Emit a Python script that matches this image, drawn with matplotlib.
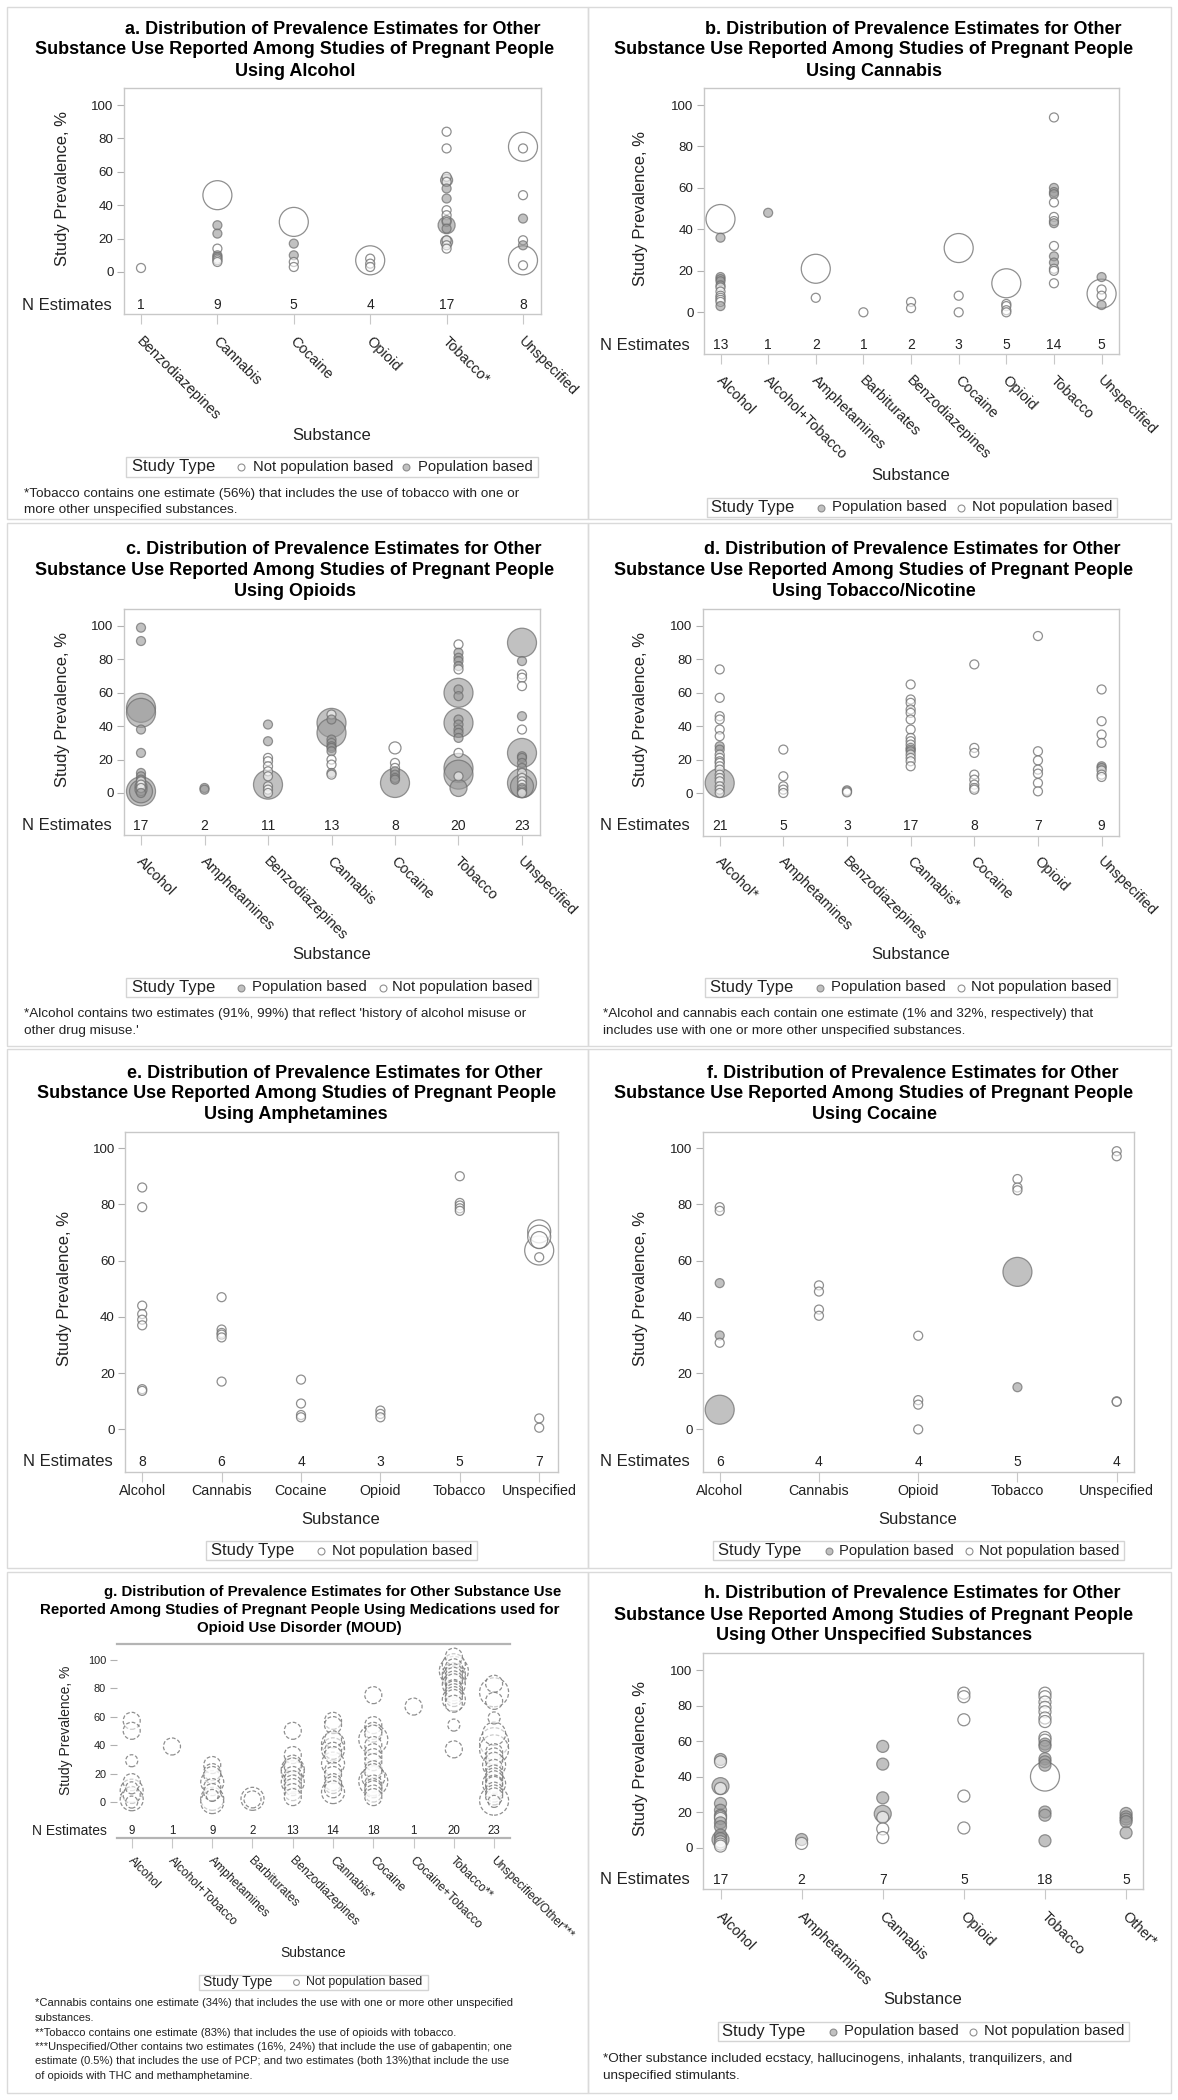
import matplotlib
matplotlib.use("Agg")
import matplotlib.pyplot as plt
from matplotlib.patches import Rectangle
from matplotlib.lines import Line2D

plt.rcParams['font.family'] = ['Liberation Sans', 'DejaVu Sans']

# ---------------------------------------------------------------- data
# values = study prevalence (%), size = relative study size class (1 small .. 5 large),
# pop = 1 population based, 0 not population based
A_CATS = ["Benzodiazepines", "Cannabis", "Cocaine", "Opioid", "Tobacco*", "Unspecified"]
A_N = [1, 9, 5, 4, 17, 8]
A_VALS = [[2.4],
          [46, 28, 23, 14, 10, 9, 8, 7, 6],
          [30, 17, 10, 6, 3],
          [7, 8, 5, 3],
          [84, 74, 57, 55, 54, 50, 44, 37, 34, 31, 30, 28, 26, 19, 18, 16, 14],
          [75, 74, 46, 32, 19, 16, 7, 4]]
A_SIZE = [[1], [5, 1, 1, 1, 1, 1, 1, 1, 1], [5, 1, 1, 1, 1], [5, 1, 1, 1],
          [1, 1, 1, 2, 1, 1, 1, 1, 1, 1, 1, 3, 1, 1, 2, 1, 1], [5, 1, 1, 1, 1, 1, 5, 1]]
A_POP = [[0], [0, 1, 1, 0, 1, 1, 0, 0, 0], [0, 1, 1, 0, 0], [0, 0, 0, 0],
         [0, 0, 0, 1, 0, 1, 1, 0, 0, 0, 1, 1, 1, 0, 1, 0, 0], [0, 0, 0, 1, 0, 1, 0, 0]]

B_CATS = ["Alcohol", "Alcohol+Tobacco", "Amphetamines", "Barbiturates", "Benzodiazepines",
          "Cocaine", "Opioid", "Tobacco", "Unspecified"]
B_N = [13, 1, 2, 1, 2, 3, 5, 14, 5]
B_VALS = [[45, 36, 17, 16, 15, 13, 12, 10, 8, 7, 6, 5, 3],
          [48], [21, 7], [0], [5, 2], [31, 8, 0], [14, 4, 3, 1, 0],
          [94, 60, 58, 57, 53, 46, 44, 43, 32, 27, 24, 21, 20, 14],
          [17, 11, 9, 8, 3.5]]
B_SIZE = [[5, 1, 1, 1, 1, 1, 1, 1, 1, 1, 1, 1, 1], [1], [5, 1], [1], [1, 1], [5, 1, 1],
          [5, 1, 1, 1, 1], [1] * 14, [1, 1, 5, 1, 1]]
B_POP = [[0, 1, 1, 1, 1, 1, 0, 0, 0, 0, 0, 0, 1], [1], [0, 0], [0], [0, 0], [0, 0, 0],
         [0, 0, 0, 0, 0], [0, 1, 1, 1, 0, 0, 0, 1, 0, 1, 1, 0, 0, 0], [1, 0, 0, 0, 1]]

C_CATS = ["Alcohol", "Amphetamines", "Benzodiazepines", "Cannabis", "Cocaine", "Tobacco", "Unspecified"]
C_N = [17, 2, 11, 13, 8, 20, 23]
C_VALS = [[99, 91, 51, 48, 38, 24, 12, 10, 8, 7, 5, 4, 3, 2, 1, 1, 0],
          [3, 2],
          [41, 31, 21, 19, 16, 13, 10, 5, 4, 2, 0],
          [47, 44, 42, 36, 32, 30, 28, 27, 25, 20, 17, 12, 11],
          [27, 18, 15, 13, 11, 9, 8, 6],
          [89, 84, 81, 79, 76, 74, 62, 60, 58, 44, 42, 41, 38, 36, 33, 24, 15, 11, 10, 3],
          [90, 79, 71, 69, 64, 46, 38, 24, 22, 21, 18, 15, 12, 9, 7, 6, 5, 4, 3, 2, 1, 0, 0]]
C_SIZE = [[1, 1, 5, 5, 1, 1, 1, 1, 1, 1, 1, 2, 1, 2, 5, 4, 1],
          [1, 1],
          [1, 1, 1, 1, 1, 1, 1, 5, 1, 1, 1],
          [1, 1, 5, 5, 1, 1, 1, 1, 1, 1, 1, 1, 1],
          [2, 1, 1, 1, 1, 1, 1, 5],
          [1, 1, 1, 1, 1, 1, 1, 5, 1, 1, 5, 1, 1, 1, 1, 1, 5, 5, 1, 3],
          [5, 1, 1, 1, 1, 1, 1, 5, 1, 1, 1, 1, 1, 1, 1, 5, 1, 4, 1, 1, 1, 1, 1]]
C_POP = [[1, 1, 1, 1, 1, 1, 1, 1, 1, 0, 0, 1, 0, 1, 1, 1, 1],
         [1, 1],
         [1, 1, 0, 0, 0, 0, 0, 1, 0, 0, 0],
         [0, 1, 1, 1, 1, 1, 1, 1, 1, 0, 0, 1, 0],
         [0, 0, 0, 1, 1, 1, 1, 1],
         [0, 1, 1, 1, 1, 0, 1, 1, 1, 1, 1, 1, 1, 1, 1, 0, 1, 1, 0, 1],
         [1, 1, 0, 0, 0, 1, 0, 1, 1, 1, 1, 1, 0, 0, 0, 1, 0, 1, 1, 0, 1, 1, 0]]

D_CATS = ["Alcohol*", "Amphetamines", "Benzodiazepines", "Cannabis*", "Cocaine", "Opioid", "Unspecified"]
D_N = [21, 5, 3, 17, 8, 7, 9]
D_VALS = [[74, 57, 46, 44, 38, 34, 28, 26, 23, 21, 19, 18, 16, 14, 11, 9, 7, 6, 4, 2, 0],
          [26, 10, 4, 2, 0],
          [1.6, 1, 0.4],
          [65, 56, 54, 50, 48, 44, 38, 33, 31, 29, 27, 26, 25, 23, 21, 19, 16],
          [77, 27, 24, 11, 8, 5, 3, 2],
          [94, 25, 19.5, 14, 11.6, 6, 1],
          [62, 43, 35, 30, 16, 15, 13.5, 11, 9.6]]
D_SIZE = [[1] * 17 + [5, 1, 1, 1], [1] * 5, [1] * 3, [1] * 17, [1] * 8, [1] * 7, [1] * 9]
D_POP = [[0, 0, 0, 0, 0, 0, 1, 1, 0, 0, 0, 0, 0, 0, 0, 0, 0, 1, 0, 0, 0],
         [0] * 5, [0] * 3,
         [0] * 11 + [1, 1] + [0] * 4,
         [0] * 8, [0] * 7,
         [0, 0, 0, 0, 1, 1, 0, 0, 0]]

E_CATS = ["Alcohol", "Cannabis", "Cocaine", "Opioid", "Tobacco", "Unspecified"]
E_N = [8, 6, 4, 3, 5, 7]
E_VALS = [[86, 79, 44, 41, 39, 37, 14.3, 13.7],
          [47, 35.5, 34.3, 33.7, 32.7, 17],
          [17.7, 9.2, 5.1, 4.3],
          [6.7, 5.5, 4.3],
          [90, 80.5, 79.6, 78.6, 77.7],
          [70.4, 68.5, 67.3, 63.6, 61.2, 3.9, 0.6]]
E_SIZE = [[1] * 8, [1] * 6, [1] * 4, [1] * 3, [1] * 5, [4, 4, 3, 5, 1, 1, 1]]
E_POP = [[0] * 8, [0] * 6, [0] * 4, [0] * 3, [0] * 5, [0] * 7]

F_CATS = ["Alcohol", "Cannabis", "Opioid", "Tobacco", "Unspecified"]
F_N = [6, 4, 4, 5, 4]
F_VALS = [[79, 77.7, 52, 33.4, 30.8, 7],
          [51.2, 49, 42.6, 40.4],
          [33.3, 10.4, 8.8, 0],
          [89, 86, 85, 56, 15],
          [98.9, 97.1, 10, 9.8]]
F_SIZE = [[1, 1, 1, 1, 1, 5], [1] * 4, [1] * 4, [1, 1, 1, 5, 1], [1] * 4]
F_POP = [[0, 0, 1, 1, 0, 1], [0] * 4, [0] * 4, [0, 0, 0, 1, 1], [0] * 4]

G_CATS = ["Alcohol", "Alcohol+Tobacco", "Amphetamines", "Barbiturates", "Benzodiazepines",
          "Cannabis*", "Cocaine", "Cocaine+Tobacco", "Tobacco**", "Unspecified/Other***"]
G_N = [9, 1, 9, 2, 13, 14, 18, 1, 20, 23]
G_VALS = [[57, 50, 29, 14, 10, 8, 5, 2, 0],
          [39],
          [26, 21, 19, 14, 10.5, 7, 4.7, 2.3, 0],
          [2.3, 1.9],
          [50, 33, 27, 25, 23, 21, 19, 16, 14, 13, 10.5, 7, 3.5],
          [57, 54, 44, 41, 37, 36, 33, 27, 22, 19, 14, 12, 9, 7],
          [75, 54, 50, 48, 44, 40, 35, 31.5, 28, 23, 21, 17.5, 14.5, 13, 10.5, 9, 6, 3.5],
          [67],
          [102, 96, 94.5, 92, 91, 89.7, 88.5, 87, 86, 84, 82.5, 80, 79, 77, 75, 73, 72, 69, 54, 37],
          [83, 77, 71, 59, 48, 42, 37, 35, 32, 29, 26, 24, 20, 18, 16, 13, 13, 12, 8, 6, 4, 1, 0.5]]
G_SIZE = [[3, 3, 2, 3, 2, 4, 3, 4, 2],
          [3],
          [3, 3, 3, 4, 3, 3, 2, 4, 4],
          [4, 3],
          [3, 3, 3, 3, 4, 4, 3, 3, 4, 3, 3, 3, 3],
          [3, 3, 3, 4, 4, 3, 3, 4, 3, 3, 3, 3, 3, 4],
          [3, 3, 3, 3, 5, 3, 3, 3, 3, 3, 3, 4, 5, 3, 3, 3, 3, 3],
          [3],
          [3, 4, 3, 5, 3, 4, 3, 4, 3, 3, 4, 3, 3, 3, 3, 3, 4, 3, 2, 3],
          [3, 5, 3, 2, 4, 5, 5, 3, 3, 3, 4, 3, 3, 3, 3, 4, 3, 3, 3, 3, 3, 5, 2]]
G_POP = [[0] * len(v) for v in G_VALS]

H_CATS = ["Alcohol", "Amphetamines", "Cannabis", "Opioid", "Tobacco", "Other*"]
H_N = [17, 2, 7, 5, 18, 5]
H_VALS = [[49.6, 48.3, 34.6, 33.3, 24.8, 21, 18.2, 17.3, 16.4, 13.9, 11.7, 7, 5, 4.5, 3.2, 1.9, 0.8],
          [4.5, 2.3],
          [57, 47, 28, 19, 17, 10.5, 5.6],
          [87, 85, 72, 29, 11],
          [87, 85, 82, 79, 76.5, 73, 71, 62, 60.5, 58.3, 57, 50, 48.3, 46.4, 40, 20, 18.2, 3.8],
          [19.2, 17.3, 16, 14.6, 8.3]]
H_SIZE = [[2, 2, 3, 2, 2, 2, 2, 2, 2, 2, 2, 2, 2, 3, 2, 2, 2],
          [2, 2],
          [2, 2, 2, 3, 2, 2, 2],
          [2] * 5,
          [2] * 14 + [5, 2, 2, 2],
          [2] * 5]
H_POP = [[1, 0, 1, 0, 1, 1, 1, 0, 0, 1, 1, 1, 1, 1, 0, 0, 0],
         [1, 0],
         [1, 1, 1, 1, 0, 0, 0],
         [0] * 5,
         [0] * 9 + [1, 1, 1, 1, 1, 0, 1, 1, 1],
         [1] * 5]

TITLE_HEAD = "Distribution of Prevalence Estimates for Other"
TITLE_MID = "Substance Use Reported Among Studies of Pregnant People"

FOOT_A = ["*Tobacco contains one estimate (56%) that includes the use of tobacco with one or",
          "more other unspecified substances."]
FOOT_C = ["*Alcohol contains two estimates (91%, 99%) that reflect 'history of alcohol misuse or",
          "other drug misuse.'"]
FOOT_D = ["*Alcohol and cannabis each contain one estimate (1% and 32%, respectively) that",
          "includes use with one or more other unspecified substances."]
FOOT_G = ["*Cannabis contains one estimate (34%) that includes the use with one or more other unspecified",
          "substances.",
          "**Tobacco contains one estimate (83%) that includes the use of opioids with tobacco.",
          "***Unspecified/Other contains two estimates (16%, 24%) that include the use of gabapentin; one",
          "estimate (0.5%) that includes the use of PCP; and two estimates (both 13%)that include the use",
          "of opioids with THC and methamphetamine."]
FOOT_H = ["*Other substance included ecstacy, hallucinogens, inhalants, tranquilizers, and",
          "unspecified stimulants."]

# ---------------------------------------------------------------- layout (pixels)
W, H = 1178, 2100
DPI = 100
fig = plt.figure(figsize=(W / DPI, H / DPI), dpi=DPI)
fig.patch.set_facecolor('white')

SIZE_PX = {1: 9, 2: 12, 3: 17, 4: 23, 5: 29}
TXT = '#222222'

FILLED_FC = (0.60, 0.60, 0.60, 0.60)
FILLED_EC = (0.42, 0.42, 0.42, 0.70)
OPEN_FC = (1, 1, 1, 0.55)
OPEN_EC = (0.45, 0.45, 0.45, 0.80)

LAYOUT = {
    'a': dict(frame=(124, 541, 88, 314), y0=272, y100=105, cats_px=(141, 523), nrow=305,
              nlab_x=112, ylab_x=62, rot_y=333, xlab=(332, 435),
              titles=[(333, 29.3), (295, 50), (295, 71)],
              legend=dict(box=(126, 457, 538, 477), title_x=131.7,
                          items=[(240.8, 253.2, 0), (406.4, 418.4, 1)]),
              foot=(24.5, [494, 510])),
    'b': dict(frame=(704, 1118.5, 88, 354), y0=312.3, y100=105, cats_px=(720.5, 1101.6), nrow=345,
              nlab_x=690, ylab_x=640.7, rot_y=372, xlab=(911, 475),
              titles=[(913, 29.3), (874, 50), (874, 71)],
              legend=dict(box=(706.5, 498, 1116.7, 517), title_x=711,
                          items=[(821.3, 831.8, 1), (961.3, 971.8, 0)]),
              foot=None),
    'c': dict(frame=(124, 540, 609, 835), y0=793, y100=626, cats_px=(141, 522), nrow=826,
              nlab_x=112, ylab_x=62, rot_y=853, xlab=(332, 955),
              titles=[(333.5, 550), (295, 570.7), (295, 591.7)],
              legend=dict(box=(126, 978, 538, 997), title_x=131.7,
                          items=[(240.8, 252, 1), (382.7, 392.5, 0)]),
              foot=(24.5, [1014, 1031])),
    'd': dict(frame=(703, 1119, 609, 836), y0=793, y100=626, cats_px=(719.7, 1101.6), nrow=826,
              nlab_x=690, ylab_x=640.7, rot_y=853, xlab=(911, 955),
              titles=[(912, 550), (874, 570.7), (874, 591.7)],
              legend=dict(box=(704.6, 978, 1116.7, 997), title_x=710.3,
                          items=[(820.2, 830.7, 1), (960.5, 971, 0)]),
              foot=(603, [1014, 1031])),
    'e': dict(frame=(125.3, 557.6, 1131.6, 1471.8), y0=1429.4, y100=1148.1, cats_px=(142.2, 539.2),
              nrow=1461.5, nlab_x=113, ylab_x=64, rot_y=None, hlab_y=1491, xlab=(341, 1519),
              titles=[(335, 1073), (297, 1093.7), (296, 1114.4)],
              legend=dict(box=(206, 1541, 477, 1560), title_x=210.7,
                          items=[(320.6, 331.9, 0)]),
              foot=None),
    'f': dict(frame=(702.8, 1134.4, 1131.6, 1471.8), y0=1429.4, y100=1148.1, cats_px=(719.7, 1116.7),
              nrow=1461.5, nlab_x=690, ylab_x=640.7, rot_y=None, hlab_y=1491, xlab=(918, 1519),
              titles=[(912.5, 1073), (874, 1093.7), (874, 1114.4)],
              legend=dict(box=(713, 1541, 1124, 1560), title_x=717.8,
                          items=[(828.8, 839.4, 1), (968.8, 979.3, 0)]),
              foot=None),
    'g': dict(frame=(116.6, 509.9, 1643.5, 1838), y0=1802.1, y100=1659.5, cats_px=(131.7, 494.1),
              nrow=1831, nlab_x=106.5, ylab_x=65.8, rot_y=1853, xlab=(313, 1953),
              titles=[(332.8, 1592.3), (300, 1610), (299.7, 1628)],
              legend=dict(box=(198.7, 1974.5, 428, 1990), title_x=203.2,
                          items=[(296.1, 305.5, 0)]),
              foot=(34.6, [2003.4, 2018, 2032.5, 2047, 2061.4, 2075.8]),
              scale=0.83, dashed=True, open_frame=True),
    'h': dict(frame=(702.8, 1143, 1653, 1889), y0=1847.5, y100=1670.1, cats_px=(720.5, 1126.1),
              nrow=1879.6, nlab_x=690, ylab_x=640.7, rot_y=1908, xlab=(923, 2000),
              titles=[(912, 1594), (874, 1615), (874, 1635.6)],
              legend=dict(box=(717.8, 2022, 1128.7, 2041), title_x=722.3,
                          items=[(832.6, 843.9, 1), (972.6, 983.9, 0)]),
              foot=(603, [2058.7, 2075.8])),
}

PANEL_BOXES = [(7, 7, 588, 519), (588, 7, 1171, 519),
               (7, 523, 588, 1046), (588, 523, 1171, 1046),
               (7, 1049, 588, 1568), (588, 1049, 1171, 1568),
               (7, 1572, 588, 2093), (588, 1572, 1171, 2093)]


def T(x, y, s, **kw):
    kw.setdefault('color', TXT)
    fig.text(x / W, 1 - y / H, s, **kw)


for (x0, y0, x1, y1) in PANEL_BOXES:
    fig.add_artist(Rectangle((x0 / W, 1 - y1 / H), (x1 - x0) / W, (y1 - y0) / H,
                             transform=fig.transFigure, fill=False, ec='#dadada', lw=1.0))


def draw_panel(key, title_lines, cats, n_est, vals, sizes, pops, foot):
    lay = LAYOUT[key]
    k = lay.get('scale', 1.0)
    L, R, Tp, B = lay['frame']
    ax = fig.add_axes([L / W, 1 - B / H, (R - L) / W, (B - Tp) / H])
    ax.set_facecolor('none')
    y0, y100 = lay['y0'], lay['y100']
    ppu = (y0 - y100) / 100.0
    ax.set_ylim(-(B - y0) / ppu, (y0 - Tp) / ppu)
    c0, c1 = lay['cats_px']
    n = len(cats)
    sp = (c1 - c0) / (n - 1)
    ax.set_xlim(-(c0 - L) / sp, (n - 1) + (R - c1) / sp)

    pts = []
    for i, (v, s, p) in enumerate(zip(vals, sizes, pops)):
        for vv, sv, pv in zip(v, s, p):
            pts.append((i, vv, sv, pv))
    pts.sort(key=lambda t: -t[2])
    xs = [t[0] for t in pts]
    ys = [t[1] for t in pts]
    ss = [(SIZE_PX[t[2]] * 72.0 / DPI) ** 2 for t in pts]
    fcs = [FILLED_FC if t[3] else OPEN_FC for t in pts]
    ecs = [FILLED_EC if t[3] else OPEN_EC for t in pts]
    kw = {}
    if lay.get('dashed'):
        kw['linestyles'] = (0, (3.0, 1.6))
    ax.scatter(xs, ys, s=ss, facecolors=fcs, edgecolors=ecs, linewidths=0.9, zorder=3, **kw)

    ny = (y0 - lay['nrow']) / ppu
    for i, nv in enumerate(n_est):
        ax.text(i, ny, str(nv), ha='center', va='center', fontsize=10 * k, color=TXT)

    ax.set_yticks([0, 20, 40, 60, 80, 100])
    ax.set_yticklabels(['0', '20', '40', '60', '80', '100'])
    ax.tick_params(axis='y', length=5, color='#b0b0b0', labelsize=9.6 * k, labelcolor=TXT, pad=2.5)
    ax.set_xticks(range(n))
    ax.set_xticklabels([])
    ax.tick_params(axis='x', length=7, color='#c8c8c8')
    for sname, sp_ in ax.spines.items():
        sp_.set_color('#c8c8c8')
        sp_.set_linewidth(1.0)
    if lay.get('open_frame'):
        ax.spines['left'].set_visible(False)
        ax.spines['right'].set_visible(False)
        ax.spines['top'].set_color('#b4b4b4')
        ax.spines['top'].set_linewidth(1.6)
        ax.spines['bottom'].set_color('#b4b4b4')
        ax.spines['bottom'].set_linewidth(1.6)

    for i, lab in enumerate(cats):
        x = c0 + i * sp
        if lay['rot_y'] is not None:
            T(x - 2, lay['rot_y'] + 6, lab, rotation=-45, rotation_mode='anchor',
              ha='left', va='center', fontsize=10.5 * k)
        else:
            T(x, lay['hlab_y'], lab, ha='center', va='center', fontsize=10.3)

    T(lay['xlab'][0], lay['xlab'][1], 'Substance', ha='center', va='center', fontsize=12 * k)
    T(lay['ylab_x'], (y0 + y100) / 2.0, 'Study Prevalence, %', rotation=90,
      ha='center', va='center', fontsize=12 * k)
    T(lay['nlab_x'], lay['nrow'], 'N Estimates', ha='right', va='center', fontsize=12 * k)

    for (tx, ty), line in zip(lay['titles'], title_lines):
        T(tx, ty, line, ha='center', va='center', fontsize=13 * (0.835 if k < 1 else 1),
          fontweight='bold', color='black')

    lg = lay['legend']
    bx0, by0, bx1, by1 = lg['box']
    fig.add_artist(Rectangle((bx0 / W, 1 - by1 / H), (bx1 - bx0) / W, (by1 - by0) / H,
                             transform=fig.transFigure, fill=False, ec='#d4d4d4', lw=1.0))
    cy = (by0 + by1) / 2.0
    T(lg['title_x'], cy, 'Study Type', ha='left', va='center', fontsize=12 * k)
    for mx, tx, kind in lg['items']:
        fig.add_artist(Line2D([mx / W], [1 - cy / H], marker='o', markersize=5 * k,
                              markerfacecolor=FILLED_FC if kind else 'white',
                              markeredgecolor=FILLED_EC if kind else OPEN_EC,
                              markeredgewidth=0.8, linestyle='none',
                              transform=fig.transFigure))
        T(tx, cy, 'Population based' if kind else 'Not population based',
          ha='left', va='center', fontsize=10.6 * k)

    if foot is not None and lay['foot'] is not None:
        fx0, fys = lay['foot']
        for line, fyy in zip(foot, fys):
            T(fx0, fyy, line, ha='left', va='center', fontsize=9.7 * k)


def titles(letter, last):
    return [f"{letter}. {TITLE_HEAD}", TITLE_MID, last]


draw_panel('a', titles('a', 'Using Alcohol'), A_CATS, A_N, A_VALS, A_SIZE, A_POP, FOOT_A)
draw_panel('b', titles('b', 'Using Cannabis'), B_CATS, B_N, B_VALS, B_SIZE, B_POP, None)
draw_panel('c', titles('c', 'Using Opioids'), C_CATS, C_N, C_VALS, C_SIZE, C_POP, FOOT_C)
draw_panel('d', titles('d', 'Using Tobacco/Nicotine'), D_CATS, D_N, D_VALS, D_SIZE, D_POP, FOOT_D)
draw_panel('e', titles('e', 'Using Amphetamines'), E_CATS, E_N, E_VALS, E_SIZE, E_POP, None)
draw_panel('f', titles('f', 'Using Cocaine'), F_CATS, F_N, F_VALS, F_SIZE, F_POP, None)
draw_panel('g', ["g. Distribution of Prevalence Estimates for Other Substance Use",
                 "Reported Among Studies of Pregnant People Using Medications used for",
                 "Opioid Use Disorder (MOUD)"],
           G_CATS, G_N, G_VALS, G_SIZE, G_POP, FOOT_G)
draw_panel('h', titles('h', 'Using Other Unspecified Substances'), H_CATS, H_N, H_VALS, H_SIZE, H_POP, FOOT_H)

fig.savefig('out.png', dpi=DPI, facecolor='white')
